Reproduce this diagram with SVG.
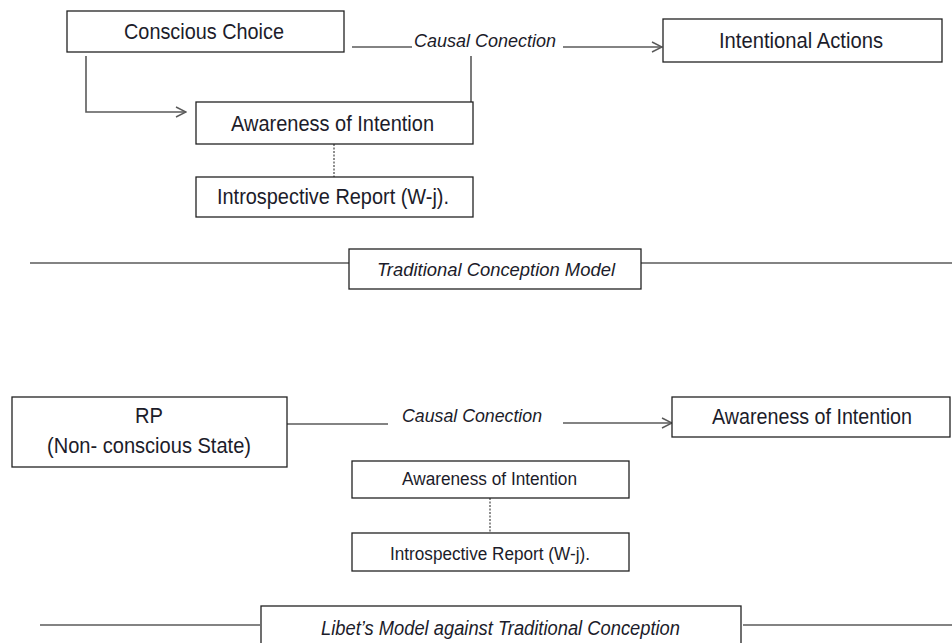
<svg xmlns="http://www.w3.org/2000/svg" width="952" height="643" viewBox="0 0 952 643">
<defs>
<style>
.box{fill:#fff;stroke:#222;stroke-width:1.3}
.ln{fill:none;stroke:#5a5a5a;stroke-width:1.6}
.dash{fill:none;stroke:#444;stroke-width:1.2;stroke-dasharray:2 1.5}
.t{font-family:"Liberation Sans",Arial,sans-serif;fill:#1c1c2a;text-anchor:start}
.i{font-style:italic}
</style>
<marker id="arr" viewBox="0 0 12 12" refX="11" refY="6" markerWidth="12" markerHeight="12" markerUnits="userSpaceOnUse" orient="auto">
<path d="M1,1 L11,6 L1,11" fill="none" stroke="#5a5a5a" stroke-width="1.4"/>
</marker>
</defs>
<rect width="952" height="643" fill="#fff"/>
<g id="connectors">
<path class="ln" d="M86,56 V112 H186" marker-end="url(#arr)"/>
<line class="ln" x1="352" y1="47" x2="412" y2="47"/>
<line class="ln" x1="471" y1="56" x2="471" y2="102"/>
<line class="ln" x1="563" y1="47" x2="662" y2="47" marker-end="url(#arr)"/>
<line class="dash" x1="334" y1="144" x2="334" y2="177"/>
<line class="ln" x1="30" y1="263" x2="349" y2="263"/>
<line class="ln" x1="641" y1="263" x2="952" y2="263"/>
<line class="ln" x1="287" y1="424" x2="388" y2="424"/>
<line class="ln" x1="563" y1="423" x2="672" y2="423" marker-end="url(#arr)"/>
<line class="dash" x1="490" y1="498" x2="490" y2="533"/>
<line class="ln" x1="40" y1="625" x2="260" y2="625"/>
<line class="ln" x1="743" y1="625" x2="952" y2="625"/>
</g>
<g id="conscious-choice">
<rect class="box" x="67" y="11" width="277" height="41"/>
<text class="t" x="124" y="39" font-size="22" textLength="160" lengthAdjust="spacingAndGlyphs">Conscious Choice</text>
</g>
<g id="causal-label-top">
<text class="t i" x="414" y="47" font-size="19" textLength="142" lengthAdjust="spacingAndGlyphs">Causal Conection</text>
</g>
<g id="intentional-actions">
<rect class="box" x="663" y="19" width="279" height="43"/>
<text class="t" x="719" y="48" font-size="22" textLength="164" lengthAdjust="spacingAndGlyphs">Intentional Actions</text>
</g>
<g id="awareness-top">
<rect class="box" x="196" y="102" width="277" height="42"/>
<text class="t" x="231" y="131" font-size="22" textLength="203" lengthAdjust="spacingAndGlyphs">Awareness of Intention</text>
</g>
<g id="introspective-top">
<rect class="box" x="196" y="177" width="277" height="40"/>
<text class="t" x="217" y="204" font-size="22" textLength="232" lengthAdjust="spacingAndGlyphs">Introspective Report (W-j).</text>
</g>
<g id="traditional-model">
<rect class="box" x="349" y="249" width="292" height="40"/>
<text class="t i" x="377" y="276" font-size="19" textLength="238" lengthAdjust="spacingAndGlyphs">Traditional  Conception  Model</text>
</g>
<g id="rp">
<rect class="box" x="12" y="397" width="275" height="70"/>
<text class="t" x="135" y="423" font-size="22" textLength="28" lengthAdjust="spacingAndGlyphs">RP</text>
<text class="t" x="47" y="453" font-size="22" textLength="204" lengthAdjust="spacingAndGlyphs">(Non- conscious State)</text>
</g>
<g id="causal-label-bottom">
<text class="t i" x="402" y="422" font-size="19" textLength="140" lengthAdjust="spacingAndGlyphs">Causal Conection</text>
</g>
<g id="awareness-right">
<rect class="box" x="672" y="397" width="278" height="40"/>
<text class="t" x="712" y="424" font-size="22" textLength="200" lengthAdjust="spacingAndGlyphs">Awareness of Intention</text>
</g>
<g id="awareness-middle">
<rect class="box" x="352" y="461" width="277" height="37"/>
<text class="t" x="402" y="485" font-size="18" textLength="175" lengthAdjust="spacingAndGlyphs">Awareness of Intention</text>
</g>
<g id="introspective-middle">
<rect class="box" x="352" y="533" width="277" height="38"/>
<text class="t" x="390" y="560" font-size="18" textLength="200" lengthAdjust="spacingAndGlyphs">Introspective Report (W-j).</text>
</g>
<g id="libet-model">
<rect class="box" x="261" y="606" width="480" height="50"/>
<text class="t i" x="321" y="635" font-size="20" textLength="359" lengthAdjust="spacingAndGlyphs">Libet’s Model against  Traditional  Conception</text>
</g>
</svg>
